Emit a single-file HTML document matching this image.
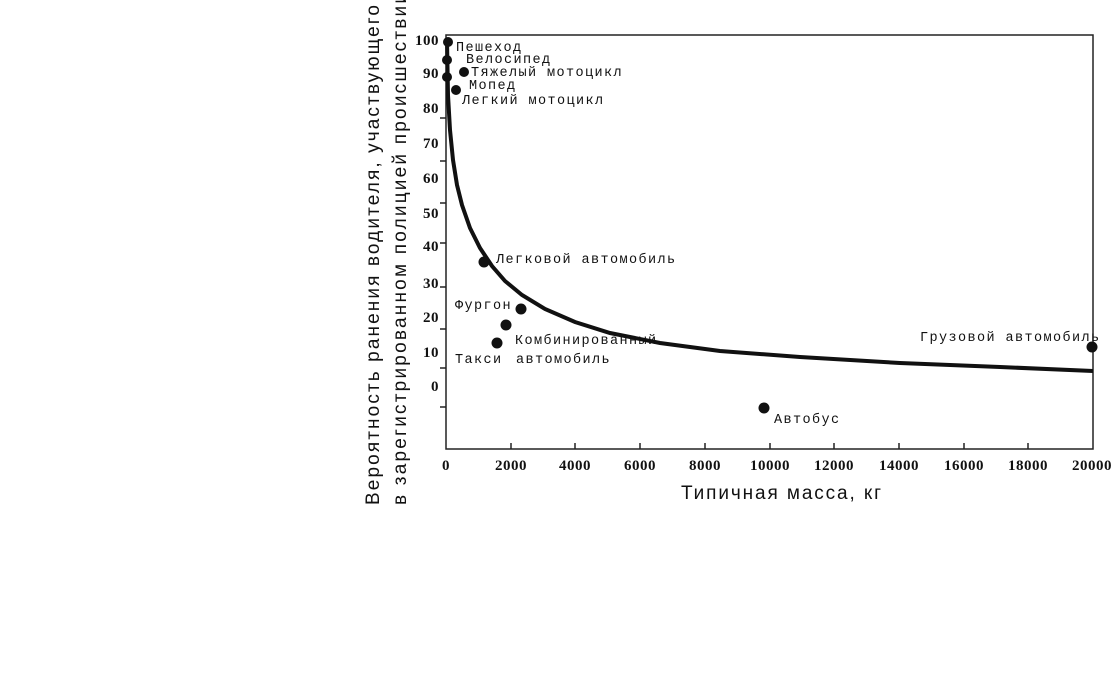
<!DOCTYPE html><html><head><meta charset="utf-8"><style>body{margin:0;background:#fff}svg{display:block}</style></head><body>
<svg width="1114" height="695" xmlns="http://www.w3.org/2000/svg" font-family="Liberation Mono, DejaVu Sans Mono, monospace" font-size="13.5" fill="#111">
<rect x="446" y="35" width="647" height="414" fill="none" stroke="#222" stroke-width="1.5"/>
<g stroke="#222" stroke-width="1.5">
<line x1="440" y1="118" x2="446" y2="118"/><line x1="440" y1="161" x2="446" y2="161"/><line x1="440" y1="203" x2="446" y2="203"/><line x1="440" y1="243" x2="446" y2="243"/><line x1="440" y1="287" x2="446" y2="287"/><line x1="440" y1="329" x2="446" y2="329"/><line x1="440" y1="368" x2="446" y2="368"/><line x1="440" y1="407" x2="446" y2="407"/>
<line x1="511" y1="449" x2="511" y2="443"/><line x1="575" y1="449" x2="575" y2="443"/><line x1="640" y1="449" x2="640" y2="443"/><line x1="705" y1="449" x2="705" y2="443"/><line x1="770" y1="449" x2="770" y2="443"/><line x1="834" y1="449" x2="834" y2="443"/><line x1="899" y1="449" x2="899" y2="443"/><line x1="964" y1="449" x2="964" y2="443"/><line x1="1028" y1="449" x2="1028" y2="443"/>
</g>
<g font-family="Liberation Serif, DejaVu Serif, serif" font-size="15" font-weight="bold" text-anchor="end" letter-spacing="0.5">
<text x="439" y="45">100</text><text x="439" y="78">90</text><text x="439" y="113">80</text><text x="439" y="148">70</text><text x="439" y="183">60</text><text x="439" y="218">50</text><text x="439" y="251">40</text><text x="439" y="288">30</text><text x="439" y="322">20</text><text x="439" y="357">10</text><text x="439" y="391">0</text>
</g>
<g font-family="Liberation Serif, DejaVu Serif, serif" font-size="15" font-weight="bold" text-anchor="middle" letter-spacing="0.5">
<text x="446" y="470">0</text><text x="511" y="470">2000</text><text x="575" y="470">4000</text><text x="640" y="470">6000</text><text x="705" y="470">8000</text><text x="770" y="470">10000</text><text x="834" y="470">12000</text><text x="899" y="470">14000</text><text x="964" y="470">16000</text><text x="1028" y="470">18000</text><text x="1092" y="470">20000</text>
</g>
<path d="M447,40 L448,95 L450,130 L453,160 L457,185 L462,205 L470,228 L480,248 L492,266 L505,281 L522,295 L545,309 L575,322 L610,333 L660,343 L720,351 L800,357 L900,363 L1000,367 L1093,371" fill="none" stroke="#111" stroke-width="4"/>
<g>
<circle cx="448" cy="42" r="5"/><circle cx="447" cy="60" r="5"/><circle cx="464" cy="72" r="5"/><circle cx="447" cy="77" r="5"/><circle cx="456" cy="90" r="5"/><circle cx="484" cy="262" r="5.5"/><circle cx="521" cy="309" r="5.5"/><circle cx="506" cy="325" r="5.5"/><circle cx="497" cy="343" r="5.5"/><circle cx="764" cy="408" r="5.5"/><circle cx="1092" cy="347" r="5.5"/>
</g>
<g letter-spacing="1.4">
<text x="456" y="51">Пешеход</text><text x="466" y="63">Велосипед</text><text x="471" y="76">Тяжелый мотоцикл</text><text x="469" y="89">Мопед</text><text x="462" y="104">Легкий мотоцикл</text>
<text x="496" y="263">Легковой автомобиль</text><text x="455" y="309">Фургон</text><text x="515" y="344">Комбинированный</text><text x="516" y="363">автомобиль</text><text x="455" y="363">Такси</text><text x="774" y="423">Автобус</text><text x="920" y="341">Грузовой автомобиль</text>
</g>
<g font-family="Liberation Sans, DejaVu Sans, sans-serif" font-size="19">
<text transform="translate(379,505) rotate(-90)" textLength="500" lengthAdjust="spacing">Вероятность ранения водителя, участвующего</text>
<text transform="translate(406,505) rotate(-90)" textLength="512" lengthAdjust="spacing">в зарегистрированном полицией происшествии</text>
<text x="681" y="499" textLength="200" lengthAdjust="spacing">Типичная масса, кг</text>
</g>
</svg></body></html>
